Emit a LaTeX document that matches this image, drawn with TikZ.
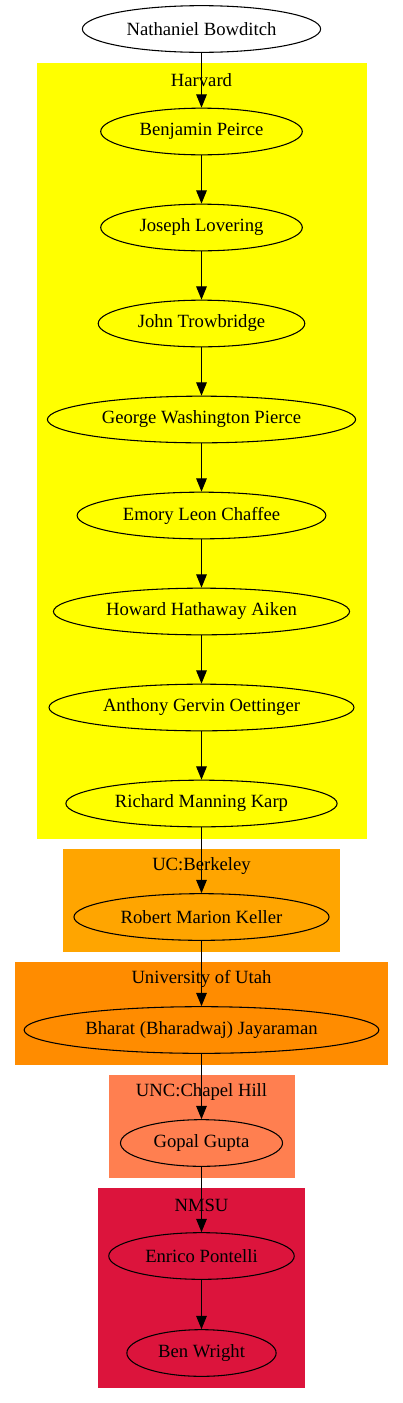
\documentclass[tikz,border=0pt]{standalone}
\usepackage{fontspec}
\setmainfont{Liberation Serif}
\usetikzlibrary{arrows.meta,shapes.geometric}
\definecolor{harvardSari}{HTML}{FFFF00}
\definecolor{berkeleyTuruncu}{HTML}{FFA500}
\definecolor{utahTuruncu}{HTML}{FF8C00}
\definecolor{uncMercan}{HTML}{FF7F50}
\definecolor{nmsuKirmizi}{HTML}{DC143C}

\begin{document}
\begin{tikzpicture}[x=0.75pt,y=-0.75pt,
  kisi/.style={ellipse,draw,line width=0.8pt,minimum height=35pt,inner xsep=7pt,font=\fontsize{14}{16}\selectfont},
  kume/.style={font=\fontsize{14}{16}\selectfont},
  ok/.style={line width=0.8pt,-{Triangle[length=10pt,width=8pt]}}]
\useasboundingbox (0,0) rectangle (403,1403);
% kumeler
\fill[harvardSari] (37,63) rectangle (367,839);
\node[kume] (lharvard) at (201.5,80) {Harvard};
\fill[berkeleyTuruncu] (63,849) rectangle (340,952);
\node[kume] (lberkeley) at (201.5,866) {UC:Berkeley};
\fill[utahTuruncu] (15,962) rectangle (388,1065);
\node[kume] (lutah) at (201.5,979) {University of Utah};
\fill[uncMercan] (109,1075) rectangle (295,1178);
\node[kume] (lunc) at (201.5,1092) {UNC:Chapel Hill};
\fill[nmsuKirmizi] (98,1188) rectangle (305,1388);
\node[kume] (lnmsu) at (201.5,1205) {NMSU};
% kisiler
\node[kisi] (nb) at (201.5,29) {Nathaniel Bowditch};
\node[kisi] (bp) at (201.5,131.5) {Benjamin Peirce};
\node[kisi] (jl) at (201.5,227.5) {Joseph Lovering};
\node[kisi] (jt) at (201.5,323.5) {John Trowbridge};
\node[kisi] (gwp) at (201.5,419.5) {George Washington Pierce};
\node[kisi] (elc) at (201.5,515.5) {Emory Leon Chaffee};
\node[kisi] (hha) at (201.5,611.5) {Howard Hathaway Aiken};
\node[kisi] (ago) at (201.5,707.5) {Anthony Gervin Oettinger};
\node[kisi] (rmk) at (201.5,803.5) {Richard Manning Karp};
\node[kisi] (rmkel) at (201.5,917) {Robert Marion Keller};
\node[kisi] (bbj) at (201.5,1030) {Bharat (Bharadwaj) Jayaraman};
\node[kisi] (gg) at (201.5,1143) {Gopal Gupta};
\node[kisi] (ep) at (201.5,1256) {Enrico Pontelli};
\node[kisi] (bw) at (201.5,1353) {Ben Wright};
% oklar
\foreach \a/\b in {nb/bp,bp/jl,jl/jt,jt/gwp,gwp/elc,elc/hha,hha/ago,ago/rmk,rmk/rmkel,rmkel/bbj,bbj/gg,gg/ep,ep/bw}
  \draw[ok] (\a) -- (\b);
\end{tikzpicture}
\end{document}
